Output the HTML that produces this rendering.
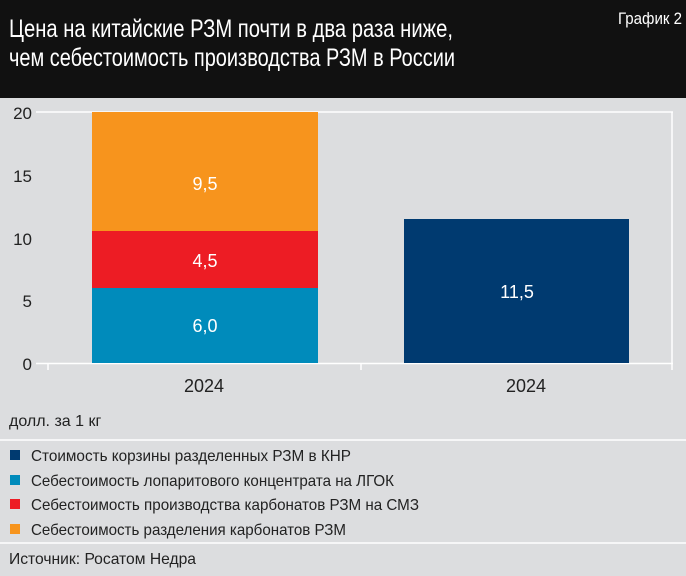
<!DOCTYPE html>
<html><head><meta charset="utf-8"><style>
body{margin:0;width:686px;height:571px;overflow:hidden;background:#dcdddf;}
svg text{font-family:"Liberation Sans Narrow","Liberation Sans",sans-serif;}
</style></head><body>
<svg width="686" height="571" xmlns="http://www.w3.org/2000/svg">
<rect x="0" y="0" width="686" height="571" fill="#dcdddf"/>
<rect x="0" y="0" width="686" height="98" fill="#111111"/>
<text x="9" y="37" font-size="25" fill="#fff" textLength="444" lengthAdjust="spacingAndGlyphs">Цена на китайские РЗМ почти в два раза ниже,</text>
<text x="9" y="66" font-size="25" fill="#fff" textLength="446" lengthAdjust="spacingAndGlyphs">чем себестоимость производства РЗМ в России</text>
<text x="682" y="24" font-size="17" fill="#fff" text-anchor="end" textLength="64" lengthAdjust="spacingAndGlyphs">График 2</text>
<line x1="36" y1="112" x2="673" y2="112" stroke="#fff" stroke-width="1.5"/>
<line x1="672" y1="112" x2="672" y2="370" stroke="#fff" stroke-width="1.5"/>
<line x1="36" y1="363.5" x2="673" y2="363.5" stroke="#fff" stroke-width="1.5"/>
<line x1="48" y1="363" x2="48" y2="370" stroke="#fff" stroke-width="1.5"/>
<line x1="361" y1="363" x2="361" y2="370" stroke="#fff" stroke-width="1.5"/>
<g font-size="17" fill="#222" text-anchor="end">
<text x="32" y="119">20</text><text x="32" y="182">15</text><text x="32" y="245">10</text><text x="32" y="307">5</text><text x="32" y="370">0</text>
</g>
<rect x="92" y="288" width="226" height="75" fill="#008bbb"/>
<rect x="92" y="231" width="226" height="57" fill="#ed1c24"/>
<rect x="92" y="112" width="226" height="119" fill="#f7941d"/>
<rect x="404" y="219" width="225" height="144" fill="#003a70"/>
<g font-size="18" fill="#fff" text-anchor="middle">
<text x="205" y="332">6,0</text><text x="205" y="267">4,5</text><text x="205" y="190">9,5</text><text x="517" y="298">11,5</text>
</g>
<g font-size="18" fill="#222" text-anchor="middle">
<text x="204" y="392">2024</text><text x="526" y="392">2024</text>
</g>
<text x="9" y="426" font-size="16" fill="#222">долл. за 1 кг</text>
<line x1="0" y1="440" x2="686" y2="440" stroke="#fff" stroke-width="1.5"/>
<rect x="10" y="450" width="10" height="10" fill="#003a70"/>
<rect x="10" y="475" width="10" height="10" fill="#008bbb"/>
<rect x="10" y="499" width="10" height="10" fill="#ed1c24"/>
<rect x="10" y="524" width="10" height="10" fill="#f7941d"/>
<g font-size="16" fill="#222">
<text x="31" y="461" textLength="320" lengthAdjust="spacingAndGlyphs">Стоимость корзины разделенных РЗМ в КНР</text>
<text x="31" y="486" textLength="363" lengthAdjust="spacingAndGlyphs">Себестоимость лопаритового концентрата на ЛГОК</text>
<text x="31" y="510" textLength="388" lengthAdjust="spacingAndGlyphs">Себестоимость производства карбонатов РЗМ на СМЗ</text>
<text x="31" y="535" textLength="315" lengthAdjust="spacingAndGlyphs">Себестоимость разделения карбонатов РЗМ</text>
</g>
<line x1="0" y1="543" x2="686" y2="543" stroke="#fff" stroke-width="1.5"/>
<text x="9" y="564" font-size="16" fill="#222" textLength="187" lengthAdjust="spacingAndGlyphs">Источник: Росатом Недра</text>
</svg>
</body></html>
